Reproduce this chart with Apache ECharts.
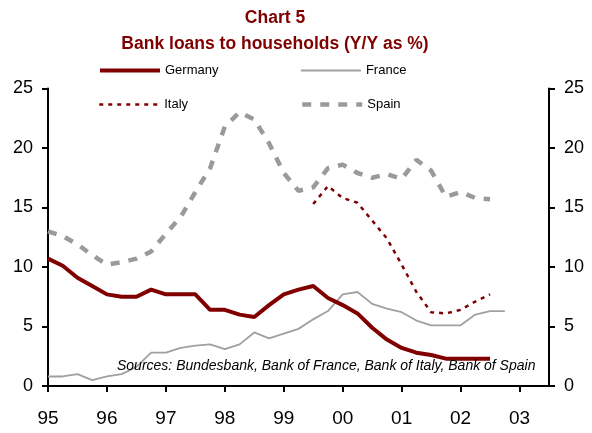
<!DOCTYPE html>
<html>
<head>
<meta charset="utf-8">
<script src="https://cdn.jsdelivr.net/npm/echarts@6/dist/echarts.min.js"></script>
<style>
  html, body { margin: 0; padding: 0; background: #fff; }
  #chart { width: 592px; height: 433px; }
</style>
</head>
<body>
<div id="chart"></div>
<script>
// Quarterly observations, 1995 Q1 to 2003 Q3 (axis runs to mid-2003)
const quarters = [
  '1995Q1','1995Q2','1995Q3','1995Q4',
  '1996Q1','1996Q2','1996Q3','1996Q4',
  '1997Q1','1997Q2','1997Q3','1997Q4',
  '1998Q1','1998Q2','1998Q3','1998Q4',
  '1999Q1','1999Q2','1999Q3','1999Q4',
  '2000Q1','2000Q2','2000Q3','2000Q4',
  '2001Q1','2001Q2','2001Q3','2001Q4',
  '2002Q1','2002Q2','2002Q3','2002Q4',
  '2003Q1','2003Q2','2003Q3'
];

// Bank loans to households, Y/Y %
const germany = [10.7, 10.1, 9.1, 8.4, 7.7, 7.5, 7.5, 8.1, 7.7, 7.7, 7.7, 6.4,
  6.4, 6.0, 5.8, 6.8, 7.7, 8.1, 8.4, 7.4, 6.8, 6.1, 4.9, 3.9,
  3.2, 2.8, 2.6, 2.3, 2.3, 2.3, 2.3];
const france = [0.8, 0.8, 1.0, 0.5, 0.8, 1.0, 1.6, 2.8, 2.8, 3.2, 3.4, 3.5,
  3.1, 3.5, 4.5, 4.0, 4.4, 4.8, 5.6, 6.3, 7.7, 7.9, 6.9, 6.5,
  6.2, 5.5, 5.1, 5.1, 5.1, 6.0, 6.3, 6.3];
const italy = [null, null, null, null, null, null, null, null, null, null, null, null,
  null, null, null, null, null, null, 15.3, 16.8, 15.8, 15.4, 13.9, 12.4,
  10.2, 7.9, 6.2, 6.1, 6.4, 7.1, 7.7];
const spain = [13.0, 12.6, 11.9, 11.0, 10.2, 10.4, 10.7, 11.3, 12.8, 14.2, 16.3, 18.3,
  21.8, 23.0, 22.4, 20.4, 17.9, 16.4, 16.7, 18.3, 18.6, 17.9, 17.5, 17.8,
  17.4, 19.0, 18.1, 15.9, 16.3, 15.8, 15.7];

const yTicks = [0, 5, 10, 15, 20, 25];

const FONT = "'Liberation Sans', Arial, Helvetica, sans-serif";
const DARK_RED = '#800000';
const GREY = '#a0a0a0';
const SPAIN_GREY = '#9a9a9a';

// line styles shared by each series and its legend entry
const styles = {
  Germany: { color: DARK_RED, width: 4, type: 'solid' },
  France: { color: GREY, width: 1.8, type: 'solid' },
  Italy: { color: DARK_RED, width: 2.5, type: [4, 5] },
  Spain: { color: SPAIN_GREY, width: 4.5, type: [9, 9] }
};

const chart = echarts.init(document.getElementById('chart'), null, { renderer: 'canvas' });

function legendAt(name, left, top) {
  return {
    data: [name],
    left: left,
    top: top,
    padding: 0,
    itemWidth: 60,
    itemHeight: 12,
    selectedMode: false,
    itemStyle: { opacity: 0, borderWidth: 0 },
    lineStyle: Object.assign({}, styles[name]),
    textStyle: { fontFamily: FONT, fontSize: 13, color: '#000' }
  };
}

function yAxisSide(position) {
  return {
    type: 'value',
    position: position,
    min: yTicks[0],
    max: yTicks[yTicks.length - 1],
    interval: 5,
    splitLine: { show: false },
    axisLine: { show: true, lineStyle: { color: '#000', width: 2 } },
    axisTick: { show: true, inside: false, length: 6, lineStyle: { color: '#000', width: 2 } },
    axisLabel: { margin: 15, fontFamily: FONT, fontSize: 18, color: '#000' }
  };
}

function lineSeries(name, data) {
  return {
    name: name, type: 'line', data: data, yAxisIndex: 0,
    symbol: 'none', color: styles[name].color,
    lineStyle: Object.assign({}, styles[name])
  };
}

chart.setOption({
  animation: false,
  backgroundColor: '#fff',
  title: {
    text: 'Chart 5\nBank loans to households (Y/Y as %)',
    left: 270,
    top: 0,
    textAlign: 'center',
    textStyle: {
      fontFamily: FONT, fontSize: 17.5, fontWeight: 'bold',
      color: DARK_RED, lineHeight: 26
    }
  },
  legend: [
    legendAt('Germany', 98, 64),
    legendAt('France', 300, 64),
    legendAt('Italy', 98, 98),
    legendAt('Spain', 300, 98)
  ],
  grid: { left: 48, right: 43, top: 88.5, bottom: 47, containLabel: false },
  xAxis: {
    type: 'category',
    data: quarters,
    boundaryGap: false,
    axisLine: { show: true, onZero: false, lineStyle: { color: '#000', width: 2 } },
    axisTick: { show: true, interval: 3, length: 6, lineStyle: { color: '#000', width: 2 } },
    axisLabel: {
      interval: 3,
      margin: 23,
      fontFamily: FONT,
      fontSize: 19,
      color: '#000',
      formatter: function (q) { return q.slice(2, 4); }
    },
    splitLine: { show: false }
  },
  yAxis: [yAxisSide('left'), yAxisSide('right')],
  graphic: [{
    type: 'text',
    left: 117,
    top: 359,
    z: 10,
    style: {
      text: 'Sources: Bundesbank, Bank of France, Bank of Italy, Bank of Spain',
      fontFamily: FONT,
      fontSize: 14,
      fontStyle: 'italic',
      fill: '#000'
    }
  }],
  series: [
    lineSeries('France', france),
    lineSeries('Spain', spain),
    lineSeries('Italy', italy),
    lineSeries('Germany', germany)
  ]
});
</script>
</body>
</html>
